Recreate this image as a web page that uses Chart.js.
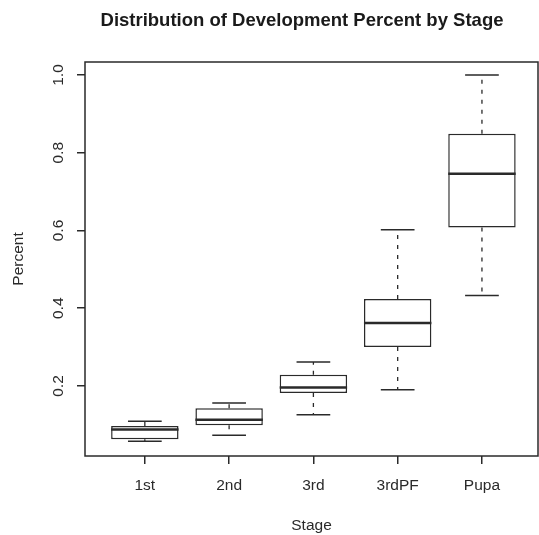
<!DOCTYPE html>
<html>
<head>
<meta charset="utf-8">
<script src="https://cdn.jsdelivr.net/npm/chart.js@4.4.0/dist/chart.umd.min.js"></script>
<style>
  html, body { margin: 0; padding: 0; background: #fff; }
  #wrap { width: 539px; height: 535px; }
</style>
</head>
<body>
<div id="wrap"><canvas id="box-chart"></canvas></div>
<script>
// values
const stages = ['1st', '2nd', '3rd', '3rdPF', 'Pupa'];
const whiskerLow = [0.058, 0.073, 0.126, 0.190, 0.433];
const q1 = [0.063, 0.099, 0.182, 0.300, 0.608];
const median = [0.088, 0.113, 0.196, 0.362, 0.746];
const q3 = [0.097, 0.143, 0.229, 0.424, 0.849];
const whiskerHigh = [0.109, 0.156, 0.262, 0.602, 1.0];
const yTicks = [0.2, 0.4, 0.6, 0.8, 1.0];

const FONT = "'Liberation Sans', Arial, Helvetica, sans-serif";
const INK = '#2a2a2a';

function main() {
    const canvas = document.querySelector('#box-chart');

    const boxes = stages.map((s, i) => ({ x: i + 1, y: [q1[i], q3[i]] }));

    const whiskers = [];
    const caps = [];
    const medians = [];
    stages.forEach((s, i) => {
        const x = i + 1;
        whiskers.push({ x: x, y: q3[i] }, { x: x, y: whiskerHigh[i] }, { x: x, y: null });
        whiskers.push({ x: x, y: q1[i] }, { x: x, y: whiskerLow[i] }, { x: x, y: null });
        caps.push({ x: x - 0.2, y: whiskerHigh[i] }, { x: x + 0.2, y: whiskerHigh[i] }, { x: x, y: null });
        caps.push({ x: x - 0.2, y: whiskerLow[i] }, { x: x + 0.2, y: whiskerLow[i] }, { x: x, y: null });
        medians.push({ x: x - 0.4, y: median[i] }, { x: x + 0.4, y: median[i] }, { x: x, y: null });
    });

    const lineStyle = {
        type: 'line',
        pointRadius: 0,
        pointHoverRadius: 0,
        fill: false,
        spanGaps: false,
        tension: 0,
        borderColor: INK,
        borderCapStyle: 'butt'
    };

    // plot frame + main title
    const frame = {
        id: 'frame',
        afterDraw(chart) {
            const { ctx, chartArea: a } = chart;
            ctx.save();
            ctx.strokeStyle = INK;
            ctx.lineWidth = 1.5;
            ctx.strokeRect(a.left, a.top, a.right - a.left, a.bottom - a.top);
            ctx.fillStyle = '#1a1a1a';
            ctx.font = 'bold 18.5px ' + FONT;
            ctx.textAlign = 'center';
            ctx.textBaseline = 'middle';
            ctx.fillText('Distribution of Development Percent by Stage', 302, 21);
            ctx.restore();
        }
    };

    new Chart(canvas.getContext('2d'), {
        type: 'bar',
        data: {
            datasets: [
                Object.assign({}, lineStyle, { data: medians, borderWidth: 2.6, order: 1 }),
                {
                    type: 'bar',
                    data: boxes,
                    backgroundColor: '#ffffff',
                    borderColor: INK,
                    borderWidth: 1.5,
                    borderSkipped: false,
                    barPercentage: 0.8,
                    categoryPercentage: 1,
                    order: 2
                },
                Object.assign({}, lineStyle, { data: caps, borderWidth: 1.5, order: 3 }),
                Object.assign({}, lineStyle, { data: whiskers, borderWidth: 1.3, borderDash: [4, 6], order: 4 })
            ]
        },
        options: {
            responsive: true,
            maintainAspectRatio: false,
            animation: false,
            layout: { padding: { top: 62, right: 1, bottom: 0, left: 0 } },
            plugins: {
                legend: { display: false },
                tooltip: { enabled: false },
                title: { display: false }
            },
            scales: {
                x: {
                    type: 'linear',
                    offset: false,
                    min: 0.29,
                    max: 5.665,
                    afterBuildTicks: scale => { scale.ticks = stages.map((s, i) => ({ value: i + 1 })); },
                    afterFit: scale => { scale.height = 79; },
                    grid: { display: true, offset: false, drawOnChartArea: false, drawTicks: true, tickLength: 8, color: INK, lineWidth: 1.5 },
                    border: { display: false },
                    ticks: {
                        padding: 12,
                        color: INK,
                        font: { family: FONT, size: 15.5 },
                        maxRotation: 0,
                        autoSkip: false,
                        callback: v => stages[v - 1]
                    },
                    title: {
                        display: true,
                        text: 'Stage',
                        color: INK,
                        font: { family: FONT, size: 15.5 },
                        padding: { top: 0, bottom: 0 }
                    }
                },
                y: {
                    type: 'linear',
                    min: 0.0199,
                    max: 1.0334,
                    afterBuildTicks: scale => { scale.ticks = yTicks.map(v => ({ value: v })); },
                    afterFit: scale => { scale.width = 85; },
                    grid: { display: true, drawOnChartArea: false, drawTicks: true, tickLength: 8, color: INK, lineWidth: 1.5 },
                    border: { display: false },
                    ticks: {
                        padding: 8,
                        color: INK,
                        crossAlign: 'center',
                        minRotation: 90,
                        maxRotation: 90,
                        font: { family: FONT, size: 15.5 },
                        callback: v => v.toFixed(1)
                    },
                    title: {
                        display: true,
                        text: 'Percent',
                        color: INK,
                        font: { family: FONT, size: 15.5 },
                        padding: { top: 9, bottom: 0 }
                    }
                }
            }
        },
        plugins: [frame]
    });
}

main();
</script>
</body>
</html>
